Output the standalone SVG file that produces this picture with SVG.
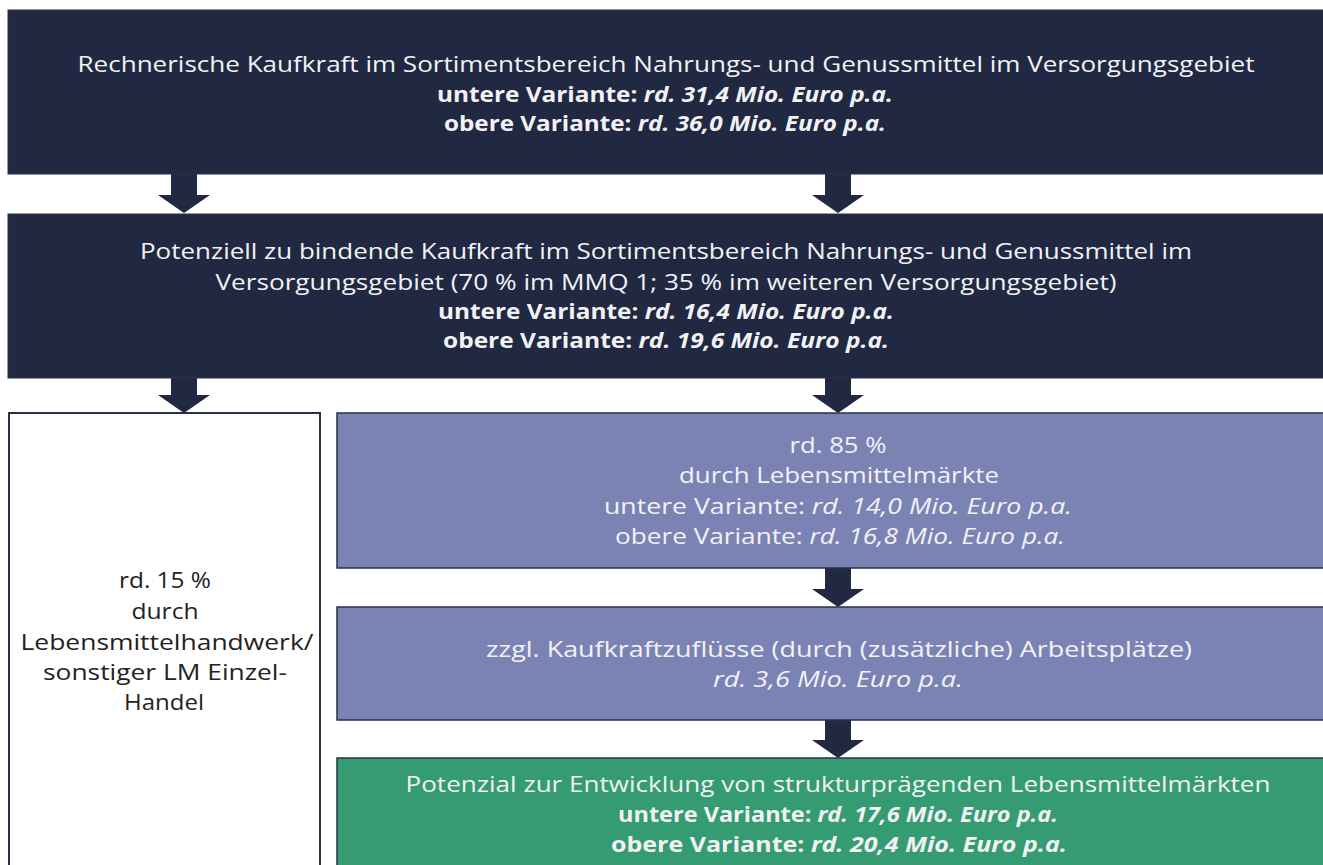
<svg xmlns="http://www.w3.org/2000/svg" width="1323" height="865" viewBox="0 0 1323 865">
<style>
.t{font-family:"Open Sans","Noto Sans",sans-serif;font-size:22px;text-anchor:middle;fill:#f2f2f5}
.d{fill:#222}
.b{font-weight:bold}
.i{font-style:italic}
.dark{fill:#212841;stroke:#2a3048;stroke-width:1}
.pur{fill:#7b83b5;stroke:#2a3048;stroke-width:1.5}
.grn{fill:#359b72;stroke:#2a3048;stroke-width:1.5}
.wht{fill:#fff;stroke:#2a3048;stroke-width:2}
.arr{fill:#212841}
</style>
<rect width="1323" height="865" fill="#fff"/>
<g id="connectors">
<polygon class="arr" points="171,172 197,172 197,195 210,195 184,213 158,195 171,195"/>
<polygon class="arr" points="825,172 851,172 851,195 864,195 838,213 812,195 825,195"/>
<polygon class="arr" points="171,376 197,376 197,395 210,395 184,413 158,395 171,395"/>
<polygon class="arr" points="825,376 851,376 851,395 864,395 838,413 812,395 825,395"/>
<polygon class="arr" points="825,568 851,568 851,589 864,589 838,607 812,589 825,589"/>
<polygon class="arr" points="825,720 851,720 851,740 864,740 838,758 812,740 825,740"/>
</g>
<g id="n1">
<rect class="dark" x="8" y="10" width="1325" height="164"/>
<text class="t" x="666" y="72" textLength="1177" lengthAdjust="spacingAndGlyphs">Rechnerische Kaufkraft im Sortimentsbereich Nahrungs- und Genussmittel im Versorgungsgebiet</text>
<text class="t b" x="665" y="102" textLength="456" lengthAdjust="spacingAndGlyphs">untere Variante: <tspan class="i">rd. 31,4 Mio. Euro p.a.</tspan></text>
<text class="t b" x="665" y="131" textLength="442" lengthAdjust="spacingAndGlyphs">obere Variante: <tspan class="i">rd. 36,0 Mio. Euro p.a.</tspan></text>
</g>
<g id="n2">
<rect class="dark" x="8" y="214" width="1325" height="164"/>
<text class="t" x="666" y="259" textLength="1052" lengthAdjust="spacingAndGlyphs">Potenziell zu bindende Kaufkraft im Sortimentsbereich Nahrungs- und Genussmittel im</text>
<text class="t" x="666" y="290" textLength="901" lengthAdjust="spacingAndGlyphs">Versorgungsgebiet (70 % im MMQ 1; 35 % im weiteren Versorgungsgebiet)</text>
<text class="t b" x="666" y="319" textLength="456" lengthAdjust="spacingAndGlyphs">untere Variante: <tspan class="i">rd. 16,4 Mio. Euro p.a.</tspan></text>
<text class="t b" x="666" y="348" textLength="446" lengthAdjust="spacingAndGlyphs">obere Variante: <tspan class="i">rd. 19,6 Mio. Euro p.a.</tspan></text>
</g>
<g id="n3">
<rect class="wht" x="9" y="413" width="311" height="460"/>
<text class="t d" x="165" y="588" textLength="92" lengthAdjust="spacingAndGlyphs">rd. 15 %</text>
<text class="t d" x="165" y="619" textLength="67" lengthAdjust="spacingAndGlyphs">durch</text>
<text class="t d" x="167" y="650" textLength="293" lengthAdjust="spacingAndGlyphs">Lebensmittelhandwerk/</text>
<text class="t d" x="165" y="680" textLength="244" lengthAdjust="spacingAndGlyphs">sonstiger LM Einzel-</text>
<text class="t d" x="164" y="710" textLength="80" lengthAdjust="spacingAndGlyphs">Handel</text>
</g>
<g id="n4">
<rect class="pur" x="337" y="413" width="995" height="155"/>
<text class="t" x="838" y="453" textLength="97" lengthAdjust="spacingAndGlyphs">rd. 85 %</text>
<text class="t" x="839" y="483" textLength="320" lengthAdjust="spacingAndGlyphs">durch Lebensmittelmärkte</text>
<text class="t" x="838" y="514" textLength="468" lengthAdjust="spacingAndGlyphs">untere Variante: <tspan class="i">rd. 14,0 Mio. Euro p.a.</tspan></text>
<text class="t" x="840" y="544" textLength="450" lengthAdjust="spacingAndGlyphs">obere Variante: <tspan class="i">rd. 16,8 Mio. Euro p.a.</tspan></text>
</g>
<g id="n5">
<rect class="pur" x="337" y="607" width="995" height="113"/>
<text class="t" x="839" y="657" textLength="706" lengthAdjust="spacingAndGlyphs">zzgl. Kaufkraftzuflüsse (durch (zusätzliche) Arbeitsplätze)</text>
<text class="t i" x="838" y="687" textLength="250" lengthAdjust="spacingAndGlyphs">rd. 3,6 Mio. Euro p.a.</text>
</g>
<g id="n6">
<rect class="grn" x="337" y="758" width="995" height="115"/>
<text class="t" x="838" y="792" textLength="865" lengthAdjust="spacingAndGlyphs">Potenzial zur Entwicklung von strukturprägenden Lebensmittelmärkten</text>
<text class="t b" x="838" y="822" textLength="440" lengthAdjust="spacingAndGlyphs">untere Variante: <tspan class="i">rd. 17,6 Mio. Euro p.a.</tspan></text>
<text class="t b" x="839" y="852" textLength="456" lengthAdjust="spacingAndGlyphs">obere Variante: <tspan class="i">rd. 20,4 Mio. Euro p.a.</tspan></text>
</g>
</svg>
